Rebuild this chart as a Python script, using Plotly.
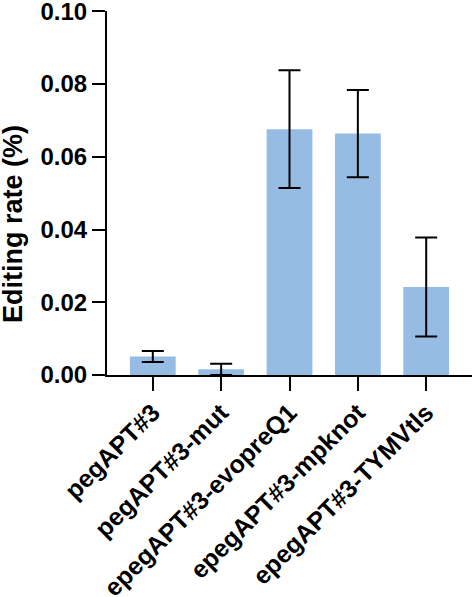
import plotly.graph_objects as go

categories = ["pegAPT#3", "pegAPT#3-mut", "epegAPT#3-evopreQ1", "epegAPT#3-mpknot", "epegAPT#3-TYMVtls"]
values = [0.0051, 0.0016, 0.0676, 0.0664, 0.0242]
errors_plus = [0.0015, 0.0015, 0.0162, 0.0120, 0.0136]
errors_minus = [0.0015, 0.0016, 0.0162, 0.0120, 0.0136]
y_ticks = [0.0, 0.02, 0.04, 0.06, 0.08, 0.10]
y_tick_labels = ["0.00", "0.02", "0.04", "0.06", "0.08", "0.10"]
y_title = "Editing rate (%)"

FONT = "Liberation Sans"

fig = go.Figure()
fig.add_trace(go.Bar(
    x=categories,
    y=values,
    width=0.67,
    marker=dict(color="#96bce4", line=dict(width=0)),
    error_y=dict(type="data", array=errors_plus, arrayminus=errors_minus,
                 symmetric=False, visible=True,
                 color="black", thickness=2, width=11),
))

fig.update_layout(
    width=475, height=597,
    margin=dict(l=107, r=3, t=11, b=222, pad=0, autoexpand=False),
    paper_bgcolor="white", plot_bgcolor="white",
    showlegend=False,
    font=dict(family=FONT, color="black"),
    xaxis=dict(
        range=[-0.67, 4.67], automargin=False,
        showline=True, linecolor="black", linewidth=2,
        ticks="outside", ticklen=14, tickwidth=2, tickcolor="black",
        tickangle=-45, ticklabelstandoff=-3, ticklabeloverflow="allow",
        tickfont=dict(family=FONT, size=25, weight="bold", color="black"),
        showgrid=False, zeroline=False,
    ),
    yaxis=dict(
        range=[0, 0.1001], automargin=False,
        tickvals=y_ticks, ticktext=y_tick_labels, ticklabeloverflow="allow",
        showline=True, linecolor="black", linewidth=2,
        ticks="outside", ticklen=13, tickwidth=2, tickcolor="black",
        tickfont=dict(family=FONT, size=24, weight="bold", color="black"),
        showgrid=False, zeroline=False,
    ),
    annotations=[dict(
        text=y_title, xref="paper", yref="paper",
        x=-0.2575, y=0.415, xanchor="center", yanchor="middle",
        textangle=-90, showarrow=False,
        font=dict(family=FONT, size=27, weight="bold", color="black"),
    )],
)

fig.write_html("out.html", config={"displayModeBar": False},
               post_script="document.body.style.margin='0px';")
